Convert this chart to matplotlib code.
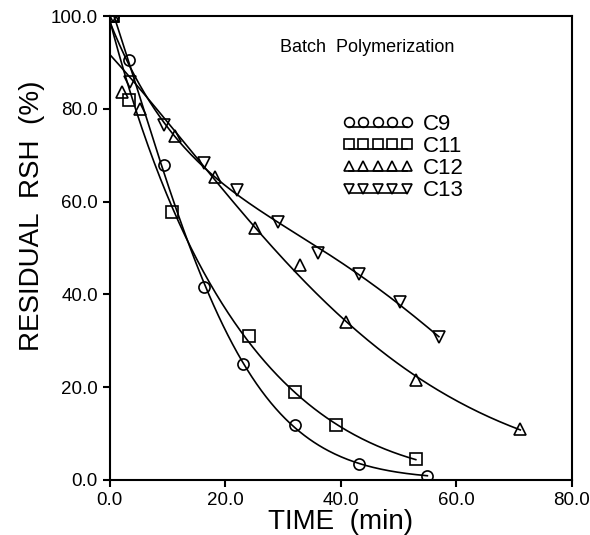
import matplotlib
matplotlib.use("Agg")
import matplotlib.pyplot as plt
from matplotlib.legend_handler import HandlerLine2DCompound
import numpy as np

plt.rcParams['font.family'] = ['Liberation Sans', 'DejaVu Sans']

# data (time in min, residual RSH in %)
c9_t = [0.5, 3.3, 9.4, 16.3, 23.0, 32.0, 43.1, 55.0]
c9_y = [100.0, 90.5, 67.9, 41.5, 24.9, 11.8, 3.5, 0.9]

c11_t = [0.5, 3.3, 10.7, 24.1, 32.0, 39.1, 53.0]
c11_y = [100.0, 81.9, 57.8, 31.0, 18.9, 11.8, 4.4]

c12_t = [0.5, 2.2, 5.3, 11.3, 18.2, 25.1, 33.0, 41.0, 53.0, 71.1]
c12_y = [100.0, 83.7, 79.9, 74.1, 65.2, 54.3, 46.3, 34.0, 21.5, 10.9]

c13_t = [0.5, 3.5, 9.4, 16.3, 22.1, 29.1, 36.1, 43.2, 50.2, 57.0]
c13_y = [100.0, 85.8, 76.6, 68.3, 62.5, 55.5, 48.9, 44.3, 38.3, 30.7]

series = [
    ('C9', c9_t, c9_y, 'o'),
    ('C11', c11_t, c11_y, 's'),
    ('C12', c12_t, c12_y, '^'),
    ('C13', c13_t, c13_y, 'v'),
]


# legend key with the line drawn under the row of markers
class LineUnder(HandlerLine2DCompound):
    def create_artists(self, legend, orig_handle, xdescent, ydescent,
                       width, height, fontsize, trans):
        arts = super().create_artists(legend, orig_handle, xdescent, ydescent,
                                      width, height, fontsize, trans)
        line = arts[0]
        line.set_ydata(np.asarray(line.get_ydata()) - 3.5)
        return arts


fig = plt.figure(figsize=(5.9, 5.35), dpi=100)
ax = fig.add_axes([0.186, 0.103, 0.783, 0.867])

for name, t, y, m in series:
    t = np.array(t)
    y = np.array(y)
    # smooth fitted curve (cubic in log space)
    coef = np.polyfit(t, np.log(y), 3)
    tt = np.linspace(0, t.max(), 200)
    ax.plot(tt, np.exp(np.polyval(coef, tt)), color='black', lw=1.2)
    ax.plot(t, y, linestyle='none', marker=m, markersize=8, markerfacecolor='none',
            markeredgecolor='black', markeredgewidth=1.2)

handles = []
for name, t, y, m in series:
    h, = ax.plot([], [], color='black', lw=1.2, marker=m, markersize=7,
                 markerfacecolor='none', markeredgecolor='black', markeredgewidth=1.2)
    handles.append(h)
ax.legend(handles, [s[0] for s in series], numpoints=5, frameon=False,
          loc='upper left', bbox_to_anchor=(0.46, 0.832), handlelength=3.2,
          handletextpad=0.45, labelspacing=0.05, fontsize=16,
          handler_map={h: LineUnder() for h in handles})

ax.text(44.5, 93.3, 'Batch  Polymerization', ha='center', va='center', fontsize=13)

ax.set_xlim(0, 80)
ax.set_ylim(0, 100)
ax.set_xticks([0, 20, 40, 60, 80])
ax.set_yticks([0, 20, 40, 60, 80, 100])
ax.set_xticklabels(['0.0', '20.0', '40.0', '60.0', '80.0'])
ax.set_yticklabels(['0.0', '20.0', '40.0', '60.0', '80.0', '100.0'])
ax.tick_params(direction='out', length=5, width=1.5, labelsize=13.5)
for s in ax.spines.values():
    s.set_linewidth(1.5)

ax.set_xlabel('TIME  (min)', fontsize=20, labelpad=0)
ax.set_ylabel('RESIDUAL  RSH  (%)', fontsize=20)
ax.yaxis.set_label_coords(-0.141, 0.57)

fig.savefig('out.png', dpi=100)
